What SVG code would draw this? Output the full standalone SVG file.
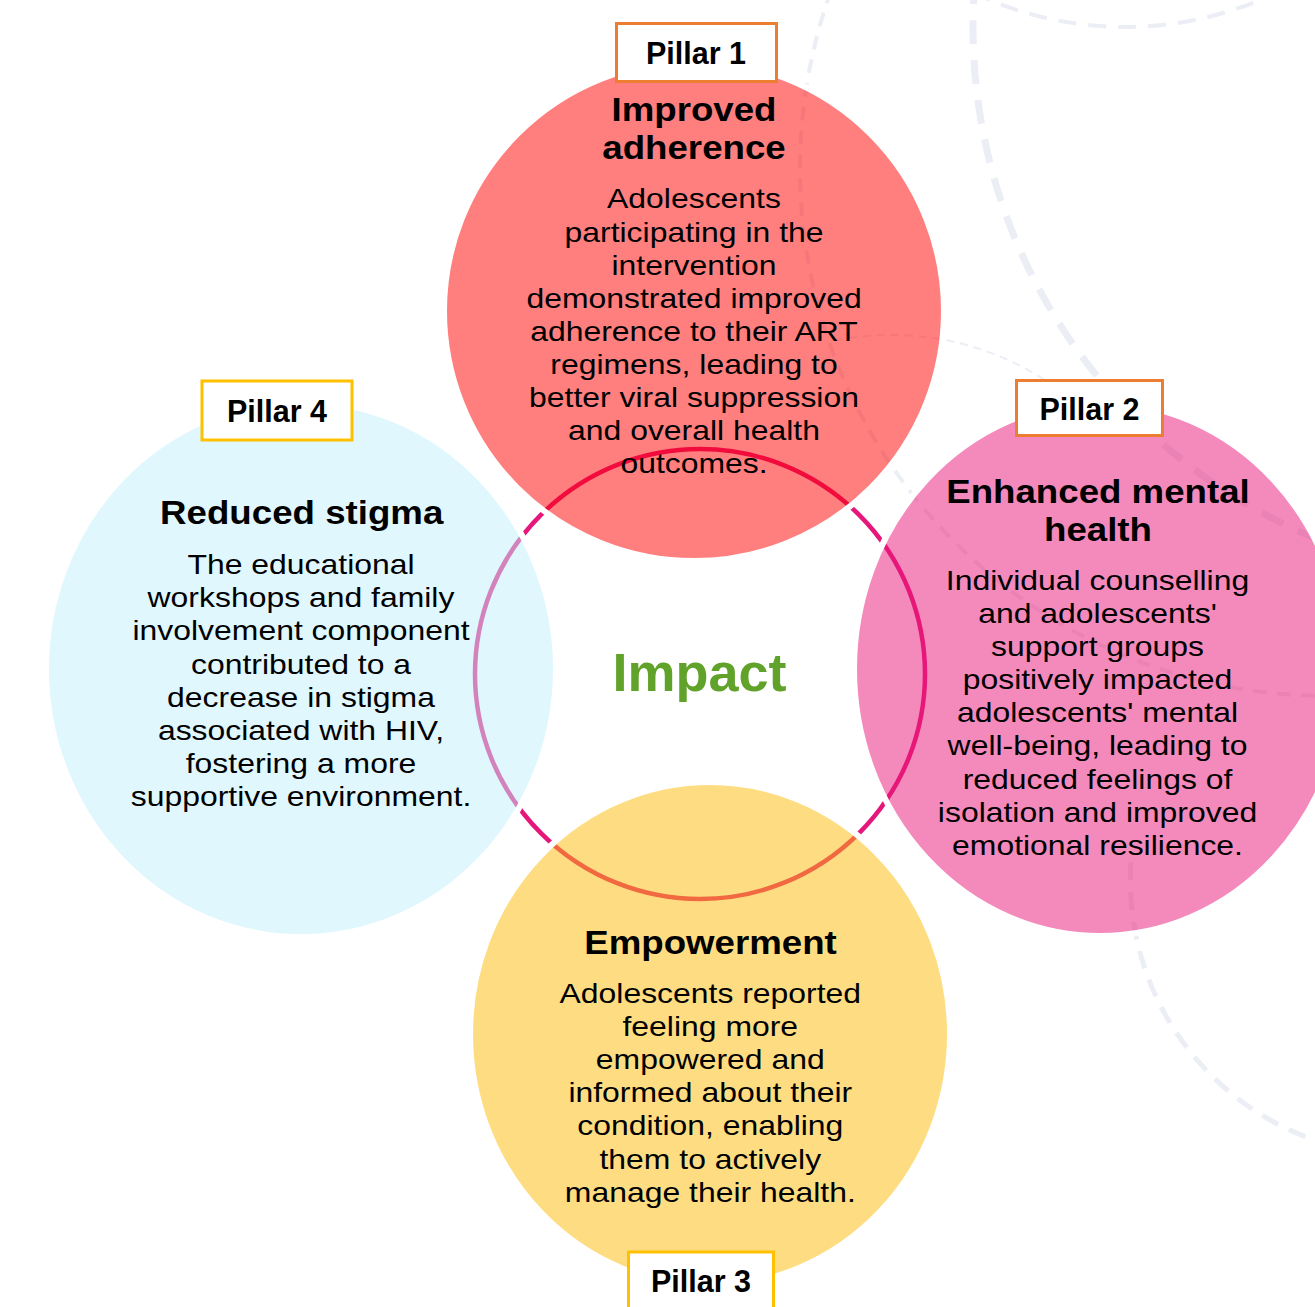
<svg xmlns="http://www.w3.org/2000/svg" width="1315" height="1307" viewBox="0 0 1315 1307">
<style>
.bg{fill:none;stroke:#eceef5;stroke-linecap:butt}
.disc{stroke:#ffffff;stroke-width:6;fill-opacity:0.5}
.tt{font-family:"Liberation Sans",Arial,sans-serif;font-weight:bold;font-size:33.5px;text-anchor:middle;fill:#000}
.bd{font-family:"Liberation Sans",Arial,sans-serif;font-size:28.5px;text-anchor:middle;fill:#000}
.pl{font-family:"Liberation Sans",Arial,sans-serif;font-weight:bold;font-size:30.5px;text-anchor:middle;fill:#000}
.box{fill:#ffffff;stroke-width:3}
</style>
<rect width="1315" height="1307" fill="#ffffff"/>
<g id="background">
<circle class="bg" cx="1526" cy="27" r="553" stroke-width="7" stroke-dasharray="24 16"/>
<circle class="bg" cx="1125" cy="-324" r="351" stroke-width="4" stroke-dasharray="18 12"/>
<circle class="bg" cx="1327" cy="169" r="527" stroke-width="4" stroke-dasharray="14 10"/>
<path class="bg" d="M 835 340 Q 950 320 1045 380" stroke-width="2" stroke-dasharray="8 6"/>
<path class="bg" d="M 1131 862 A 275 275 0 0 0 1330 1145" stroke-width="5" stroke-dasharray="18 12"/>
</g>
<g id="connectors">
<circle id="impact-ring" cx="700" cy="674" r="225" fill="none" stroke="#e5177b" stroke-width="4.5"/>
</g>
<g id="pillar1-node">
<ellipse class="disc" cx="694" cy="311" rx="250" ry="250" fill="#ff0000"/>
<g transform="translate(694,0) scale(1.095,1)">
<text class="tt" x="0" y="121">Improved</text>
<text class="tt" x="0" y="159">adherence</text>
</g>
<g transform="translate(694,0) scale(1.12,1)">
<text class="bd" x="0" y="208.5">Adolescents</text>
<text class="bd" x="0" y="241.6">participating in the</text>
<text class="bd" x="0" y="274.7">intervention</text>
<text class="bd" x="0" y="307.8">demonstrated improved</text>
<text class="bd" x="0" y="340.9">adherence to their ART</text>
<text class="bd" x="0" y="374">regimens, leading to</text>
<text class="bd" x="0" y="407.1">better viral suppression</text>
<text class="bd" x="0" y="440.2">and overall health</text>
<text class="bd" x="0" y="473.3">outcomes.</text>
</g>
</g>
<g id="pillar2-node">
<ellipse class="disc" cx="1100" cy="669" rx="246" ry="267" fill="#ea1577"/>
<g transform="translate(1098,0) scale(1.095,1)">
<text class="tt" x="0" y="503">Enhanced mental</text>
<text class="tt" x="0" y="541">health</text>
</g>
<g transform="translate(1097.5,0) scale(1.12,1)">
<text class="bd" x="0" y="590">Individual counselling</text>
<text class="bd" x="0" y="623.1">and adolescents'</text>
<text class="bd" x="0" y="656.2">support groups</text>
<text class="bd" x="0" y="689.3">positively impacted</text>
<text class="bd" x="0" y="722.4">adolescents' mental</text>
<text class="bd" x="0" y="755.5">well-being, leading to</text>
<text class="bd" x="0" y="788.6">reduced feelings of</text>
<text class="bd" x="0" y="821.7">isolation and improved</text>
<text class="bd" x="0" y="854.8">emotional resilience.</text>
</g>
</g>
<g id="pillar3-node">
<ellipse class="disc" cx="710" cy="1034" rx="240" ry="252" fill="#fdbb05"/>
<g transform="translate(710.5,0) scale(1.095,1)">
<text class="tt" x="0" y="954.3">Empowerment</text>
</g>
<g transform="translate(710.3,0) scale(1.12,1)">
<text class="bd" x="0" y="1002.7">Adolescents reported</text>
<text class="bd" x="0" y="1035.9">feeling more</text>
<text class="bd" x="0" y="1069.1">empowered and</text>
<text class="bd" x="0" y="1102.3">informed about their</text>
<text class="bd" x="0" y="1135.5">condition, enabling</text>
<text class="bd" x="0" y="1168.7">them to actively</text>
<text class="bd" x="0" y="1201.9">manage their health.</text>
</g>
</g>
<g id="pillar4-node">
<ellipse class="disc" cx="301" cy="669" rx="255" ry="268" fill="#c1effd"/>
<g transform="translate(301.7,0) scale(1.095,1)">
<text class="tt" x="0" y="524">Reduced stigma</text>
</g>
<g transform="translate(301,0) scale(1.12,1)">
<text class="bd" x="0" y="574">The educational</text>
<text class="bd" x="0" y="607.2">workshops and family</text>
<text class="bd" x="0" y="640.4">involvement component</text>
<text class="bd" x="0" y="673.6">contributed to a</text>
<text class="bd" x="0" y="706.8">decrease in stigma</text>
<text class="bd" x="0" y="740">associated with HIV,</text>
<text class="bd" x="0" y="773.2">fostering a more</text>
<text class="bd" x="0" y="806.4">supportive environment.</text>
</g>
</g>
<g id="impact-node">
<text x="699.5" y="691" font-family="Liberation Sans, Arial, sans-serif" font-weight="bold" font-size="54" text-anchor="middle" fill="#60a22a">Impact</text>
</g>
<g id="label-pillar1">
<rect class="box" x="616.5" y="23.5" width="160" height="58" stroke="#ed7d31"/>
<text class="pl" x="696" y="64">Pillar 1</text>
</g>
<g id="label-pillar2">
<rect class="box" x="1016.5" y="380.5" width="146" height="55" stroke="#ed7d31"/>
<text class="pl" x="1089.5" y="420">Pillar 2</text>
</g>
<g id="label-pillar3">
<rect class="box" x="628.5" y="1252" width="145" height="70" stroke="#ffc000"/>
<text class="pl" x="701" y="1291.5">Pillar 3</text>
</g>
<g id="label-pillar4">
<rect class="box" x="202" y="381" width="150" height="59" stroke="#ffc000"/>
<text class="pl" x="277" y="421.5">Pillar 4</text>
</g>
</svg>
